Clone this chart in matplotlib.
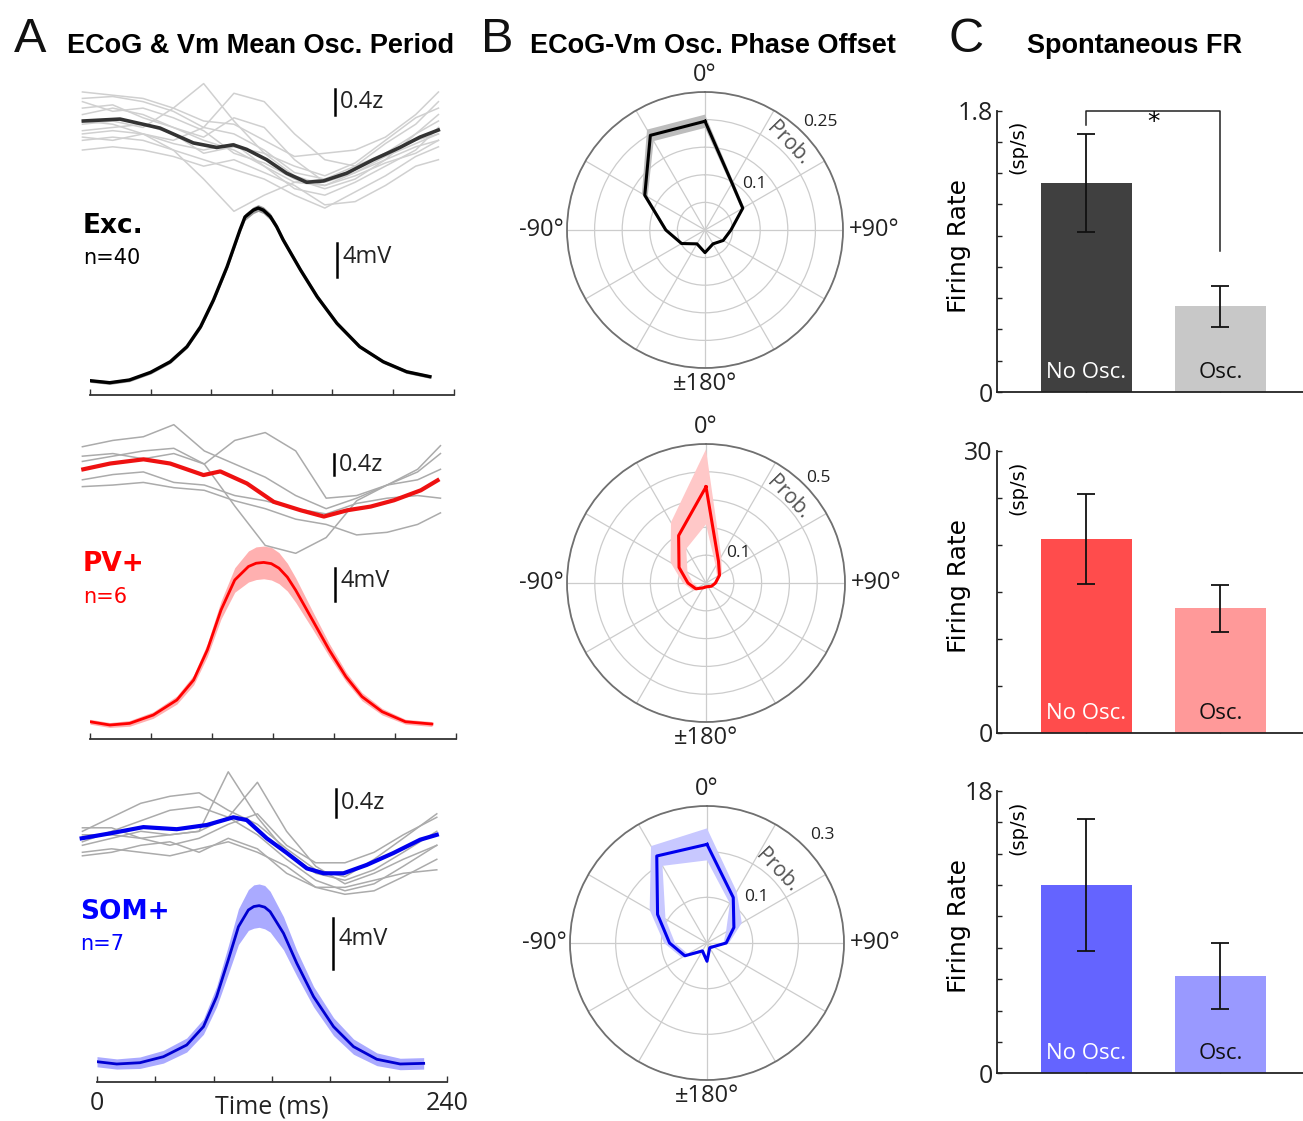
import numpy as np
import matplotlib
matplotlib.use('Agg')
import matplotlib.pyplot as plt

W, H = 1303, 1121  # output size in px at dpi 100

NUM_FONT = 'Open Sans'
TXT_FONT = 'DejaVu Sans'
HEAD_FONT = 'Liberation Sans'

# ---------------- A: ECoG & Vm mean oscillation period ----------------
# Vm mean (mV above trough) and sem, time in ms
EXC_VM_T = [0, 13, 26, 40, 53, 64, 73, 81.5, 90.5, 99, 102.3, 107.8, 111, 114.4, 119, 123.2, 127.5, 139, 150, 163, 178, 193.5, 209, 224.4]
EXC_VM_MV = [0.24, 0, 0.32, 1.22, 2.47, 4.24, 6.59, 9.73, 13.65, 17.98, 19.5, 20.3, 20.55, 20.3, 19.55, 18.35, 16.8, 13.25, 10.1, 6.98, 4.24, 2.47, 1.29, 0.71]
EXC_VM_SEM = [0.2, 0.2, 0.2, 0.2, 0.2, 0.2, 0.25, 0.3, 0.3, 0.35, 0.4, 0.4, 0.4, 0.4, 0.4, 0.35, 0.35, 0.3, 0.3, 0.25, 0.2, 0.2, 0.2, 0.2]

PV_VM_T = [0, 13, 26, 41.5, 57, 68, 77, 86, 95, 104, 109, 114, 119, 124, 129.5, 135, 146, 157, 168, 178.5, 191.7, 207, 224.4]
PV_VM_MV = [0.4, 0, 0.2, 1.22, 3.06, 5.51, 9.18, 14.08, 17.75, 19.4, 19.8, 19.9, 19.75, 19.2, 18.1, 16.5, 12.85, 9.18, 5.9, 3.47, 1.63, 0.4, 0.12]
PV_VM_SEM = [0.3, 0.3, 0.35, 0.4, 0.5, 0.6, 0.8, 1.1, 1.5, 1.9, 2.0, 2.0, 2.0, 1.9, 1.7, 1.5, 1.1, 0.8, 0.6, 0.5, 0.4, 0.3, 0.3]

SOM_VM_T = [0, 13.5, 29.4, 45.5, 61.5, 73, 82, 90, 97, 103.8, 107.5, 111.2, 115, 118.7, 127.9, 137, 148.5, 162.2, 175.9, 191.9, 207.9, 224]
SOM_VM_MV = [0.18, 0, 0.1, 0.57, 1.49, 2.93, 5.28, 8.16, 10.77, 12.08, 12.35, 12.42, 12.3, 11.95, 10.25, 7.9, 5.28, 2.93, 1.36, 0.37, 0, 0.05]
SOM_VM_SEM = [0.4, 0.4, 0.45, 0.5, 0.55, 0.6, 0.8, 1.1, 1.4, 1.6, 1.7, 1.7, 1.7, 1.6, 1.3, 1.0, 0.8, 0.7, 0.6, 0.5, 0.45, 0.45]

# ECoG grand mean (z)
EXC_ECOG_T = [-4.4, 19.8, 46.2, 68.2, 83.6, 94.6, 103.4, 116.6, 129.8, 143, 154, 169.4, 187, 204.6, 217.8, 229.9]
EXC_ECOG_Z = [0, 0.03, -0.11, -0.34, -0.41, -0.37, -0.44, -0.6, -0.81, -0.95, -0.93, -0.81, -0.6, -0.41, -0.25, -0.14]
PV_ECOG_T = [-4.4, 13.2, 35.1, 52.6, 74.5, 85.5, 103, 120.6, 138.2, 153.5, 168.9, 184.2, 199.5, 217.1, 228.1]
PV_ECOG_Z = [0, 0.11, 0.19, 0.11, -0.11, -0.04, -0.27, -0.62, -0.78, -0.9, -0.78, -0.71, -0.59, -0.4, -0.21]
SOM_ECOG_T = [-10.5, 8.9, 31.8, 54.7, 75.3, 93.5, 102.7, 116.4, 130.2, 143.9, 155.3, 169, 185, 203.3, 221.6, 233]
SOM_ECOG_Z = [0, 0.07, 0.16, 0.13, 0.19, 0.3, 0.26, 0, -0.21, -0.43, -0.5, -0.5, -0.38, -0.21, -0.02, 0.05]

# single-cell ECoG averages (z), coarse read-off
EXC_GRAY_T = [-5, 15, 35, 55, 75, 95, 115, 135, 155, 175, 195, 215, 230]
EXC_GRAY_Z = [
    [0.35, 0.38, 0.30, 0.15, -0.10, -0.20, -0.45, -0.80, -0.90, -0.70, -0.35, -0.05, 0.30],
    [-0.30, -0.25, -0.30, -0.45, -0.60, -0.75, -0.90, -1.15, -1.35, -1.10, -0.85, -0.55, -0.40],
    [0.10, 0.20, 0.10, -0.10, -0.25, 0.05, -0.10, -0.60, -0.95, -0.80, -0.55, -0.35, -0.20],
    [-0.05, 0.00, -0.10, 0.20, 0.58, 0.00, -0.50, -0.85, -1.00, -0.80, -0.60, -0.40, -0.30],
    [-0.20, -0.15, -0.20, -0.30, -0.10, 0.43, 0.30, -0.20, -0.60, -0.70, -0.50, -0.30, -0.20],
    [0.00, -0.05, -0.20, -0.45, -0.90, -1.40, -1.15, -0.95, -0.90, -0.75, -0.50, -0.20, 0.00],
    [0.45, 0.40, 0.35, 0.20, 0.00, -0.05, -0.30, -0.55, -0.50, -0.45, -0.25, 0.10, 0.45],
    [-0.45, -0.40, -0.45, -0.55, -0.70, -0.60, -0.80, -1.00, -1.30, -1.25, -1.00, -0.70, -0.60],
    [0.20, 0.25, 0.05, -0.10, -0.30, -0.45, -0.70, -1.05, -1.15, -0.95, -0.70, -0.45, -0.10],
    [-0.15, -0.10, -0.05, -0.20, -0.50, -0.40, -0.50, -0.70, -0.85, -0.65, -0.30, 0.05, 0.20],
    [0.30, 0.15, 0.20, 0.05, -0.15, -0.50, -0.65, -0.90, -1.05, -0.90, -0.60, -0.20, 0.10],
    [-0.25, -0.30, -0.20, -0.35, -0.45, -0.35, -0.70, -0.95, -1.00, -0.85, -0.65, -0.50, -0.30],
]
PV_GRAY_T = [-5, 15, 35, 55, 75, 95, 115, 135, 155, 175, 195, 215, 230]
PV_GRAY_Z = [
    [0.43, 0.55, 0.62, 0.85, 0.35, 0.10, -0.15, -0.50, -0.75, -0.55, -0.30, 0.00, 0.45],
    [0.15, 0.25, 0.35, 0.40, 0.10, 0.55, 0.70, 0.35, -0.55, -0.50, -0.30, -0.05, 0.30],
    [0.25, 0.30, 0.20, 0.30, 0.10, -0.70, -1.45, -1.60, -1.30, -0.60, -0.30, -0.20, 0.00],
    [-0.33, -0.30, -0.25, -0.35, -0.40, -0.60, -0.75, -0.95, -1.05, -1.25, -1.20, -1.05, -0.83],
    [-0.20, -0.10, -0.05, -0.25, -0.30, -0.50, -0.60, -0.75, -0.85, -0.65, -0.55, -0.50, -0.55],
]
SOM_GRAY_T = [-10, 10, 30, 50, 70, 90, 110, 130, 150, 170, 190, 210, 233]
SOM_GRAY_Z = [
    [0.10, 0.30, 0.50, 0.60, 0.65, 0.40, 0.20, -0.15, -0.45, -0.55, -0.30, 0.00, 0.35],
    [-0.10, 0.00, 0.10, 0.05, 0.10, 0.95, 0.30, -0.20, -0.50, -0.60, -0.45, -0.20, 0.10],
    [0.05, 0.05, 0.00, 0.05, 0.10, 0.30, 0.80, 0.10, -0.40, -0.65, -0.50, -0.30, -0.10],
    [-0.20, -0.15, -0.20, -0.25, -0.15, -0.05, -0.20, -0.40, -0.70, -0.80, -0.75, -0.55, -0.30],
    [-0.05, 0.10, 0.25, 0.40, 0.45, 0.30, 0.05, -0.30, -0.60, -0.75, -0.65, -0.40, -0.10],
    [0.15, 0.15, 0.00, -0.10, 0.00, 0.20, 0.35, -0.10, -0.35, -0.35, -0.20, 0.05, 0.30],
    [-0.25, -0.20, -0.10, -0.05, -0.20, 0.00, -0.15, -0.50, -0.70, -0.70, -0.60, -0.50, -0.45],
]

CELL_NAMES = ['Exc.', 'PV+', 'SOM+']
CELL_N = ['n=40', 'n=6', 'n=7']

# ---------------- B: ECoG-Vm phase offset histograms ----------------
PHASE_DEG = [0, 30, 60, 90, 120, 150, 180, -150, -120, -90, -60, -30]
EXC_PROB = [0.197, 0.098, 0.079, 0.047, 0.038, 0.029, 0.041, 0.029, 0.049, 0.071, 0.126, 0.198]
EXC_PROB_SEM = [0.012, 0.004, 0.003, 0.002, 0.002, 0.002, 0.002, 0.002, 0.002, 0.003, 0.006, 0.012]
PV_PROB = [0.346, 0.09, 0.056, 0.034, 0.023, 0.015, 0.014, 0.02, 0.042, 0.065, 0.112, 0.197]
PV_PROB_SEM = [0.135, 0.02, 0.01, 0.006, 0.005, 0.005, 0.005, 0.006, 0.012, 0.018, 0.035, 0.055]
SOM_PROB = [0.216, 0.115, 0.068, 0.042, 0.016, 0.012, 0.04, 0.02, 0.056, 0.082, 0.125, 0.22]
SOM_PROB_SEM = [0.035, 0.015, 0.02, 0.006, 0.004, 0.004, 0.004, 0.005, 0.008, 0.012, 0.02, 0.025]
PROB_MAX = [0.25, 0.5, 0.3]
PROB_MAX_LABELS = ['0.25', '0.5', '0.3']

# ---------------- C: spontaneous firing rate ----------------
BAR_LABELS = ['No Osc.', 'Osc.']
EXC_FR = [1.336, 0.548]
EXC_FR_ERR = [0.314, 0.132]
PV_FR = [20.6, 13.25]
PV_FR_ERR = [4.75, 2.5]
SOM_FR = [12.0, 6.2]
SOM_FR_ERR = [4.22, 2.1]
FR_MAX = [1.8, 30, 18]
FR_MAX_LABELS = ['1.8', '30', '18']
FR_STEP = [0.2, 5, 2]
SIG_LEG_BOTTOM = [1.71, 0.90]  # bracket legs, Exc only

# ---------------- layout (pixel anchors) ----------------
ROW_BOX = [(90, 75, 453.6, 395), (90, 415, 455.7, 738.5), (97, 755, 447, 1082)]
VM_ZERO_PX = [382.7, 725, 1064]
VM_PX_PER_MV = [8.5, 8.17, 12.75]
ECOG_ZERO_PX = [121, 469.3, 838.3]
ECOG_PX_PER_Z = [64.5, 52.5, 70]
ECOG_BAR = [(161.7, 0.5), (160, 0.29), (164, 0.7)]
VM_BAR = [(163, 16.4), (160.8, 19.2), (161.9, 11.43)]
NAME_POS = [(83, 226, 258), (83, 564, 597), (80, 912, 944)]
POLAR_BOX = [(567, 92, 843, 368), (567, 444, 845, 722), (570, 806, 844, 1080)]
BAR_BOX = [(997, 110.7, 1303, 392), (997, 450.7, 1303, 733), (997, 790.7, 1303, 1073.3)]


def px_box(l, t, r, b):
    return [l / W, 1 - b / H, (r - l) / W, (b - t) / H]


def fig_xy(x, y):
    return x / W, 1 - y / H


fig = plt.figure(figsize=(W / 100, H / 100), dpi=100)

# --- column A ---
vm_sets = [(EXC_VM_T, EXC_VM_MV, EXC_VM_SEM), (PV_VM_T, PV_VM_MV, PV_VM_SEM), (SOM_VM_T, SOM_VM_MV, SOM_VM_SEM)]
ecog_sets = [(EXC_ECOG_T, EXC_ECOG_Z), (PV_ECOG_T, PV_ECOG_Z), (SOM_ECOG_T, SOM_ECOG_Z)]
gray_sets = [(EXC_GRAY_T, EXC_GRAY_Z), (PV_GRAY_T, PV_GRAY_Z), (SOM_GRAY_T, SOM_GRAY_Z)]
vm_color = ['black', '#ff0000', '#0000d0']
band_color = ['#9c9c9c', '#ffb0b0', '#aaaaff']
ecog_color = ['#333333', '#ee1111', '#0000ee']
gray_color = ['#d0d0d0', '#ababab', '#ababab']
name_color = ['black', '#ff0000', '#0000ff']

for i in range(3):
    l, t, r, b = ROW_BOX[i]
    ax = fig.add_axes(px_box(l, t, r, b))
    ax.set_xlim(0, 240)
    ax.set_ylim((VM_ZERO_PX[i] - b) / VM_PX_PER_MV[i], (VM_ZERO_PX[i] - t) / VM_PX_PER_MV[i])
    vt, vm, sem = vm_sets[i]
    vm = np.array(vm)
    sem = np.array(sem)
    ax.fill_between(vt, vm - sem, vm + sem, color=band_color[i], lw=0)
    ax.plot(vt, vm, color=vm_color[i], lw=2.4 if i == 0 else 2.0, solid_joinstyle='round')
    for s in ['left', 'top', 'right']:
        ax.spines[s].set_visible(False)
    ax.spines['bottom'].set_color('#333333')
    ax.spines['bottom'].set_linewidth(1.3)
    ax.set_yticks([])
    ax.set_xticks(np.arange(0, 241, 40))
    ax.set_xticklabels([])
    ax.tick_params(axis='x', direction='in', length=4, width=1, colors='#333333')
    bt, btop = VM_BAR[i]
    ax.plot([bt, bt], [btop, btop - 4], color='black', lw=1.8)
    ax.text(bt + 3.5, btop - 1.6, '4mV', family=NUM_FONT, fontsize=17, color='#222222',
            ha='left', va='center')
    if i == 2:
        tr = ax.get_xaxis_transform()
        ax.text(0, -0.086, '0', transform=tr, ha='center', va='baseline', family=NUM_FONT, fontsize=18, color='#222222')
        ax.text(240, -0.086, '240', transform=tr, ha='center', va='baseline', family=NUM_FONT, fontsize=18, color='#222222')
        ax.text(120, -0.095, 'Time (ms)', transform=tr, ha='center', va='baseline', family=NUM_FONT, fontsize=18, color='#222222')

    ax_e = fig.add_axes(px_box(l, t, r, b))
    ax_e.patch.set_visible(False)
    ax_e.axis('off')
    ax_e.set_xlim(0, 240)
    ax_e.set_ylim((ECOG_ZERO_PX[i] - b) / ECOG_PX_PER_Z[i], (ECOG_ZERO_PX[i] - t) / ECOG_PX_PER_Z[i])
    gt, gz = gray_sets[i]
    for z in gz:
        ax_e.plot(gt, z, color=gray_color[i], lw=1.1, clip_on=False)
    et, ez = ecog_sets[i]
    ax_e.plot(et, ez, color=ecog_color[i], lw=2.6 if i == 0 else 3.0, clip_on=False)
    bt, btop = ECOG_BAR[i]
    ax_e.plot([bt, bt], [btop, btop - 0.4], color='black', lw=1.8)
    ax_e.text(bt + 3.5, btop - 0.2, '0.4z', family=NUM_FONT, fontsize=17, color='#222222',
              ha='left', va='center')

    nx, ny, ny2 = NAME_POS[i]
    fig.text(*fig_xy(nx, ny), CELL_NAMES[i], family=TXT_FONT, fontsize=19, fontweight='bold',
             color=name_color[i], ha='left', va='center')
    fig.text(*fig_xy(nx, ny2), CELL_N[i], family=TXT_FONT, fontsize=15,
             color=name_color[i], ha='left', va='center')

# --- column B ---
prob_sets = [(EXC_PROB, EXC_PROB_SEM), (PV_PROB, PV_PROB_SEM), (SOM_PROB, SOM_PROB_SEM)]
polar_line = ['black', '#ff0000', '#0000ee']
polar_band = ['#bdbdbd', '#ffc8c8', '#c8c8ff']
ring_step = [0.05, 0.1, 0.1]
inner_lbl_r = [0.123, 0.16, 0.147]
outer_lbl_r = [0.286, 0.554, 0.346]
prob_lbl_r = [0.217, 0.425, 0.22]

th = np.deg2rad(PHASE_DEG + [PHASE_DEG[0]])
for i in range(3):
    ax = fig.add_axes(px_box(*POLAR_BOX[i]), projection='polar')
    ax.set_theta_zero_location('N')
    ax.set_theta_direction(-1)
    p, s = prob_sets[i]
    rr = np.array(p + [p[0]])
    ss = np.array(s + [s[0]])
    ax.fill(np.r_[th, th[::-1]], np.r_[rr + ss, (rr - ss)[::-1]], color=polar_band[i], lw=0, zorder=2)
    ax.plot(th, rr, color=polar_line[i], lw=2.2, zorder=3)
    rmax = PROB_MAX[i]
    ax.set_ylim(0, rmax)
    ax.set_yticks(np.arange(ring_step[i], rmax + 1e-9, ring_step[i]))
    ax.set_yticklabels([])
    ax.set_xticks(np.deg2rad(np.arange(0, 360, 30)))
    ax.set_xticklabels([])
    ax.grid(color='#cccccc', lw=0.9)
    ax.spines['polar'].set_color('#707070')
    ax.spines['polar'].set_linewidth(1.3)
    kw = dict(transform=ax.transAxes, family=NUM_FONT, fontsize=17, color='#222222')
    ax.text(0.5, 1.018, '0°', ha='center', va='bottom', **kw)
    ax.text(1.02, 0.5, '+90°', ha='left', va='center', **kw)
    ax.text(-0.012, 0.5, '-90°', ha='right', va='center', **kw)
    ax.text(0.5, -0.015, '±180°', ha='center', va='top', **kw)
    a47 = np.deg2rad(47)
    ax.text(a47, outer_lbl_r[i], PROB_MAX_LABELS[i], ha='center', va='center',
            family=NUM_FONT, fontsize=12.5, color='#222222', clip_on=False)
    ax.text(a47, inner_lbl_r[i], '0.1', ha='center', va='center',
            family=NUM_FONT, fontsize=12.5, color='#222222', zorder=5)
    ax.text(np.deg2rad(44), prob_lbl_r[i], 'Prob.', ha='center', va='center', rotation=-46,
            rotation_mode='anchor', family=NUM_FONT, fontsize=15, color='#555555', zorder=5)

# --- column C ---
fr_sets = [(EXC_FR, EXC_FR_ERR), (PV_FR, PV_FR_ERR), (SOM_FR, SOM_FR_ERR)]
bar_colors = [['#404040', '#c8c8c8'], ['#ff4c4c', '#ff9999'], ['#6464ff', '#9999ff']]
X = [1, 2]
for i in range(3):
    ax = fig.add_axes(px_box(*BAR_BOX[i]))
    vals, errs = fr_sets[i]
    ymax = FR_MAX[i]
    ax.bar(X, vals, width=0.68, color=bar_colors[i], zorder=2)
    ax.errorbar(X, vals, yerr=errs, fmt='none', ecolor='#111111', elinewidth=1.3,
                capsize=6.5, capthick=1.3, zorder=3)
    ax.set_xlim(0.332, 2.616)
    ax.set_ylim(0, ymax)
    n = int(round(ymax / FR_STEP[i]))
    ax.set_yticks(np.linspace(0, ymax, n + 1))
    ax.set_yticklabels(['0'] + [''] * (n - 1) + [FR_MAX_LABELS[i]], family=NUM_FONT, fontsize=18)
    ax.set_xticks(X)
    ax.set_xticklabels([])
    ax.tick_params(direction='in', length=3.5, width=1, pad=3, colors='#222222')
    for s in ['top', 'right']:
        ax.spines[s].set_visible(False)
    for s in ['left', 'bottom']:
        ax.spines[s].set_linewidth(1.3)
        ax.spines[s].set_color('#222222')
    for x, lab, c in zip(X, BAR_LABELS, ['white', '#111111']):
        ax.text(x, 0.07 * ymax, lab, ha='center', va='center', family=NUM_FONT, fontsize=16, color=c, zorder=4)
    ax.set_ylabel('Firing Rate', family=TXT_FONT, fontsize=18)
    ax.yaxis.set_label_coords(-0.085, 0.52)
    ax.text(0.069, 0.87, '(sp/s)', transform=ax.transAxes, rotation=90, ha='center', va='center',
            family=TXT_FONT, fontsize=14)
    if i == 0:
        ax.plot([1, 1, 2, 2], [SIG_LEG_BOTTOM[0], ymax, ymax, SIG_LEG_BOTTOM[1]],
                color='#222222', lw=1.1, clip_on=False)
        ax.text(1.5, 1.73, '*', ha='center', va='center', family=TXT_FONT, fontsize=18)

# --- panel letters and headers ---
for letter, lx, title, tx in [('A', 30, 'ECoG & Vm Mean Osc. Period', 67),
                              ('B', 497, 'ECoG-Vm Osc. Phase Offset', 530),
                              ('C', 966, 'Spontaneous FR', 1027)]:
    fig.text(*fig_xy(lx, 40), letter, family=HEAD_FONT, fontsize=35, ha='center', va='center', color='#111111')
    fig.text(*fig_xy(tx, 46), title, family=HEAD_FONT, fontsize=19.5, fontweight='bold',
             ha='left', va='center', color='black')

fig.savefig('out.png', dpi=100)
